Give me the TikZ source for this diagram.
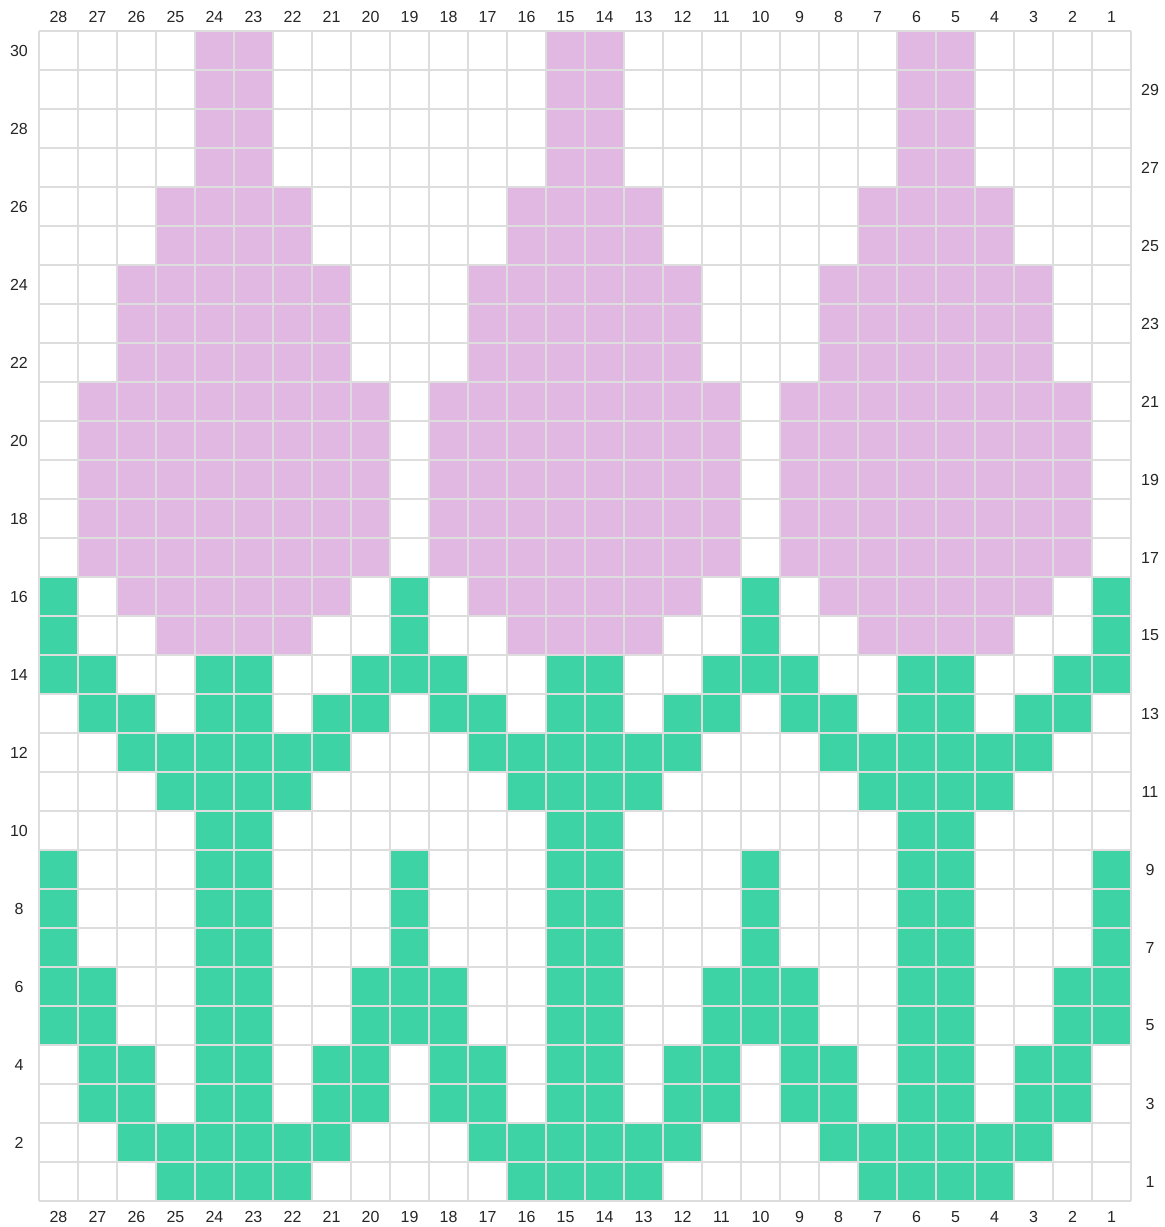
\documentclass[tikz,border=0pt]{standalone}
\usepackage{fontspec}
\setmainfont{Liberation Sans}
\definecolor{pinkc}{RGB}{225,184,225}
\definecolor{greenc}{RGB}{61,211,165}
\definecolor{gridc}{RGB}{221,221,221}
\begin{document}
\begin{tikzpicture}[x=0.5pt,y=-0.5pt,
  lbl/.style={font=\fontsize{8}{9.6}\selectfont, text=black!85, inner sep=0pt},
  gridline/.style={draw=gridc, line width=1pt}]
\useasboundingbox[fill=white] (0,0) rectangle (1164,1227);
% pink cells
\foreach \r/\cs in {
  30/{24,23,15,14,6,5},29/{24,23,15,14,6,5},28/{24,23,15,14,6,5},27/{24,23,15,14,6,5},
  26/{25,24,23,22,16,15,14,13,7,6,5,4},25/{25,24,23,22,16,15,14,13,7,6,5,4},
  24/{26,25,24,23,22,21,17,16,15,14,13,12,8,7,6,5,4,3},
  23/{26,25,24,23,22,21,17,16,15,14,13,12,8,7,6,5,4,3},
  22/{26,25,24,23,22,21,17,16,15,14,13,12,8,7,6,5,4,3},
  21/{27,26,25,24,23,22,21,20,18,17,16,15,14,13,12,11,9,8,7,6,5,4,3,2},
  20/{27,26,25,24,23,22,21,20,18,17,16,15,14,13,12,11,9,8,7,6,5,4,3,2},
  19/{27,26,25,24,23,22,21,20,18,17,16,15,14,13,12,11,9,8,7,6,5,4,3,2},
  18/{27,26,25,24,23,22,21,20,18,17,16,15,14,13,12,11,9,8,7,6,5,4,3,2},
  17/{27,26,25,24,23,22,21,20,18,17,16,15,14,13,12,11,9,8,7,6,5,4,3,2},
  16/{26,25,24,23,22,21,17,16,15,14,13,12,8,7,6,5,4,3},
  15/{25,24,23,22,16,15,14,13,7,6,5,4}}{
  \foreach \c in \cs {
    \fill[pinkc] ({39+39*(28-\c)},{31+39*(30-\r)}) rectangle ++(39,39);
  }
}
% green cells
\foreach \r/\cs in {
  16/{28,19,10,1},15/{28,19,10,1},
  14/{28,27,24,23,20,19,18,15,14,11,10,9,6,5,2,1},
  13/{27,26,24,23,21,20,18,17,15,14,12,11,9,8,6,5,3,2},
  12/{26,25,24,23,22,21,17,16,15,14,13,12,8,7,6,5,4,3},
  11/{25,24,23,22,16,15,14,13,7,6,5,4},
  10/{24,23,15,14,6,5},
  9/{28,24,23,19,15,14,10,6,5,1},8/{28,24,23,19,15,14,10,6,5,1},7/{28,24,23,19,15,14,10,6,5,1},
  6/{28,27,24,23,20,19,18,15,14,11,10,9,6,5,2,1},5/{28,27,24,23,20,19,18,15,14,11,10,9,6,5,2,1},
  4/{27,26,24,23,21,20,18,17,15,14,12,11,9,8,6,5,3,2},3/{27,26,24,23,21,20,18,17,15,14,12,11,9,8,6,5,3,2},
  2/{26,25,24,23,22,21,17,16,15,14,13,12,8,7,6,5,4,3},
  1/{25,24,23,22,16,15,14,13,7,6,5,4}}{
  \foreach \c in \cs {
    \fill[greenc] ({39+39*(28-\c)},{31+39*(30-\r)}) rectangle ++(39,39);
  }
}
% grid
\foreach \k in {0,...,28}{
  \draw[gridline] ({39+39*\k},31) -- ({39+39*\k},1201);
}
\foreach \k in {0,...,30}{
  \draw[gridline] (39,{31+39*\k}) -- (1131,{31+39*\k});
}
% column labels
\foreach \c in {1,...,28}{
  \node[lbl] (top\c) at ({39+39*(28-\c)+19.5},17) {\c};
  \node[lbl] (bot\c) at ({39+39*(28-\c)+19.5},1217) {\c};
}
% row labels
\foreach \r in {2,4,...,30}{
  \node[lbl] (left\r) at (19,{31+39*(30-\r)+19.5}) {\r};
}
\foreach \r in {1,3,...,29}{
  \node[lbl] (right\r) at (1150,{31+39*(30-\r)+19.5}) {\r};
}
\end{tikzpicture}
\end{document}
